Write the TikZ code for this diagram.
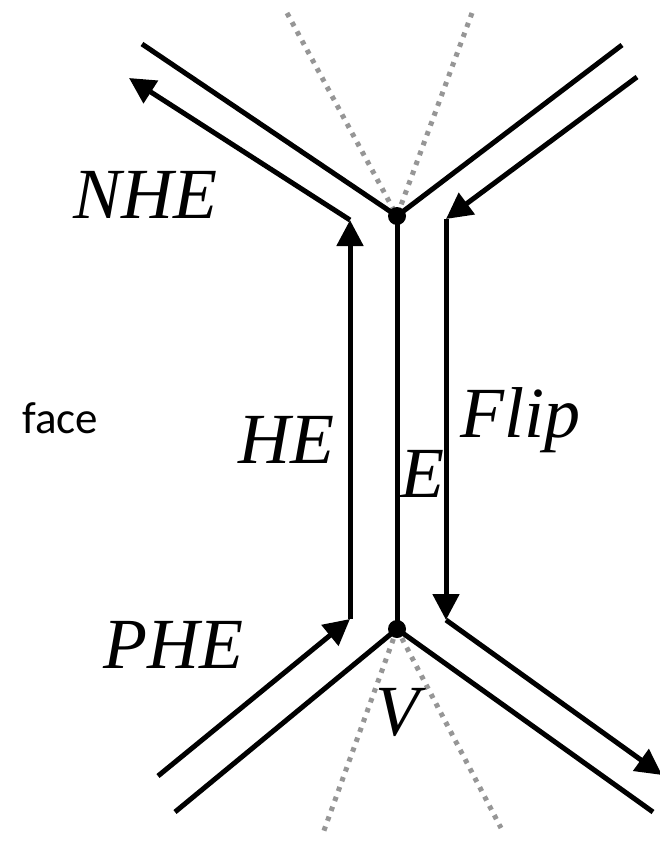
\documentclass[tikz,border=0pt]{standalone}
\usepackage{fontspec}
\setmainfont{Liberation Serif}
\newfontfamily\facefont{Carlito}
\usetikzlibrary{arrows.meta}
\definecolor{dotgray}{RGB}{150,150,150}
\tikzset{
  edgeline/.style={line width=5pt},
  halfedge/.style={line width=5pt, -{Triangle[length=26pt,width=26pt]}},
  guide/.style={dotgray, line width=5pt, dash pattern=on 4.5pt off 6pt},
  vertdot/.style={circle, fill=black, inner sep=0pt, minimum size=18pt},
  lbl/.style={font=\fontsize{72}{72}\selectfont\itshape, inner sep=0pt, anchor=base west},
  facelbl/.style={font=\facefont\fontsize{45}{45}\selectfont, inner sep=0pt, anchor=base west},
}
\begin{document}
\begin{tikzpicture}[x=1pt,y=-1pt]
\useasboundingbox (0,0) rectangle (660,841);
% vertices and end points
\coordinate (tv) at (397,216);
\coordinate (bv) at (397,629);
\coordinate (tl) at (142,44);
\coordinate (tr) at (622,45);
\coordinate (bl) at (175,812);
\coordinate (br) at (653,812);
% dotted guides
\coordinate (gtl) at (287,13);
\coordinate (gtr) at (472,13);
\coordinate (gbl) at (322,836);
\coordinate (gbr) at (501,828);
\draw[guide] (gtl) -- (tv);
\draw[guide] (gtr) -- (tv);
\draw[guide] (bv) -- (gbl);
\draw[guide] (bv) -- (gbr);
% edges
\draw[edgeline] (tl) -- (tv);
\draw[edgeline] (tv) -- (tr);
\draw[edgeline] (tv) -- (bv);
\draw[edgeline] (bl) -- (bv);
\draw[edgeline] (bv) -- (br);
% half-edge points
\coordinate (ht) at (350,220);
\coordinate (hb) at (350,619);
\coordinate (nend) at (129,78);
\coordinate (pstart) at (158,776);
\coordinate (fa) at (637,77);
\coordinate (fb) at (446,219);
\coordinate (fc) at (446,620);
\coordinate (fd) at (662,775);
% half-edges
\draw[halfedge] (ht) -- (nend);
\draw[halfedge] (hb) -- (ht);
\draw[halfedge] (pstart) -- (hb);
\draw[halfedge] (fa) -- (fb);
\draw[halfedge] (fb) -- (fc);
\draw[halfedge] (fc) -- (fd);
% vertex dots
\node[vertdot] (tvdot) at (tv) {};
\node[vertdot] (bvdot) at (bv) {};
% labels
\node[lbl] (nhe) at (73,218) {NHE};
\node[lbl] (he) at (238,463) {HE};
\node[lbl] (e) at (400,497) {E};
\node[lbl] (flip) at (460,437) {Flip};
\node[lbl] (phe) at (103,668) {PHE};
\node[lbl] (v) at (375,735) {V};
\node[facelbl] (face) at (22,433) {face};
\end{tikzpicture}
\end{document}
